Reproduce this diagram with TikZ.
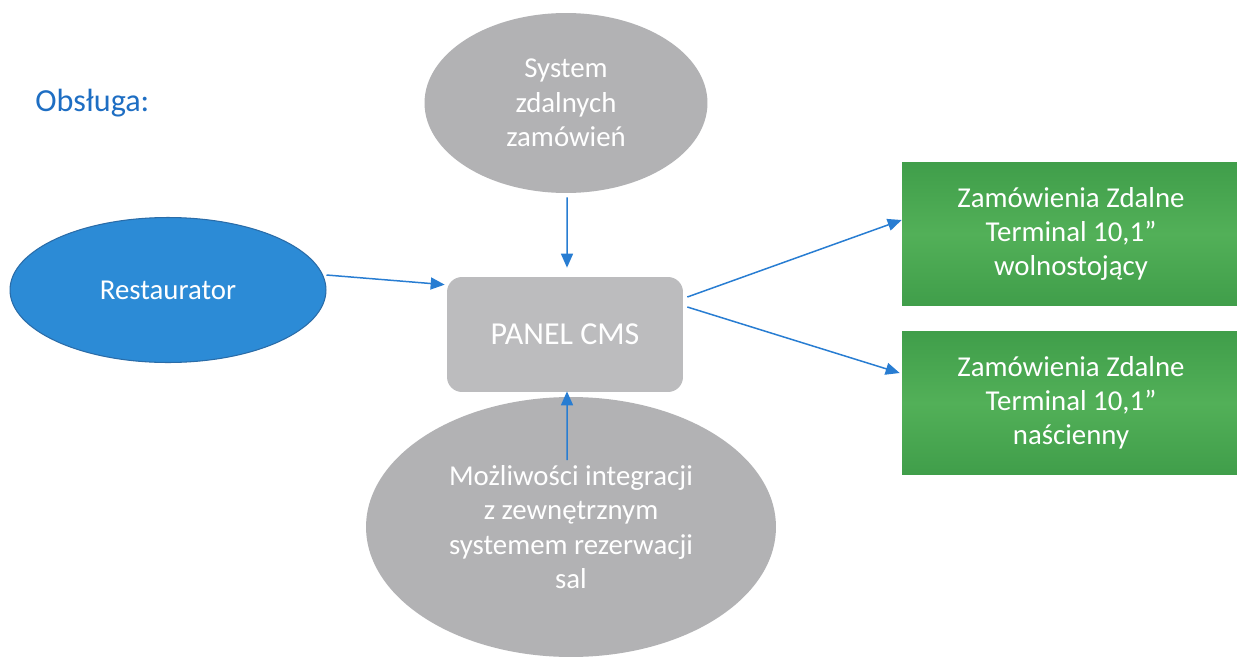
\documentclass[tikz,border=0pt]{standalone}
\usepackage{fontspec}
\setmainfont{Carlito}
\usetikzlibrary{shapes.geometric,arrows.meta}
\definecolor{greyshape}{RGB}{178,178,180}
\definecolor{greypanel}{RGB}{188,188,190}
\definecolor{restblue}{RGB}{44,139,214}
\definecolor{restedge}{RGB}{42,108,168}
\definecolor{termgreen}{RGB}{64,158,74}
\definecolor{termlight}{RGB}{82,176,88}
\definecolor{linkblue}{RGB}{40,125,210}
\definecolor{titleblue}{RGB}{30,110,195}
\tikzset{
  every picture/.append style={x=0.02cm, y=-0.02cm},
  txt/.style={font=\fontsize{16.4}{19.5}\selectfont, text=white, align=center, inner sep=0pt},
  greyoval/.style={txt, ellipse, fill=greyshape},
  terminal/.style={txt, rectangle, minimum width=6.76cm, minimum height=2.88cm,
    top color=termgreen, bottom color=termgreen, middle color=termlight},
  link/.style={draw=linkblue, line width=0.85pt, -{Triangle[width=0.24cm, length=0.28cm]}},
}

\begin{document}
\begin{tikzpicture}
  \fill[white] (0,0) rectangle (1237,659);
  \useasboundingbox (0,0) rectangle (1237,659);
  \node[anchor=west, text=titleblue, font=\fontsize{18.3}{22}\selectfont, inner sep=0pt] (title) at(35,103){Obsługa:};
  \node[greyoval, minimum width=5.66cm, minimum height=3.6cm] (sys) at(566,103){System\\zdalnych\\zamówień};
  \node[txt, ellipse, fill=restblue, draw=restedge, line width=0.6pt, minimum width=6.32cm, minimum height=2.9cm] (rest) at(168,290){Restaurator};
  \node[txt, rectangle, rounded corners=0.3cm, fill=greypanel, minimum width=4.72cm, minimum height=2.3cm, font=\fontsize{18.2}{22}\selectfont] (panel) at(565,334.5){PANEL CMS};
  \node[greyoval, minimum width=8.2cm, minimum height=5.2cm] (integ) at(571,527){Możliwości integracji\\z zewnętrznym\\systemem rezerwacji\\sal};
  \node[terminal] (wolno) at(1071,234){Zamówienia Zdalne\\Terminal 10,1”\\wolnostojący};
  \node[terminal] (nasc) at(1071,403){Zamówienia Zdalne\\Terminal 10,1”\\naścienny};
  \draw[link] ([xshift=0.02cm, yshift=-0.08cm]sys.south) -- ([xshift=0.04cm, yshift=0.18cm]panel.north);
  \draw[link] ([yshift=0.3cm]rest.east) -- ([xshift=-0.04cm, yshift=-0.16cm]panel.north west);
  \draw[link] ([xshift=-0.08cm, yshift=1.34cm]integ.center) -- ([xshift=0.04cm, yshift=0.02cm]panel.south);
  \draw[link] ([xshift=0.08cm, yshift=0.75cm]panel.east) -- ([yshift=0.28cm]wolno.west);
  \draw[link] ([xshift=0.08cm, yshift=0.55cm]panel.east) -- ([xshift=-0.04cm, yshift=0.6cm]nasc.west);
\end{tikzpicture}
\end{document}
